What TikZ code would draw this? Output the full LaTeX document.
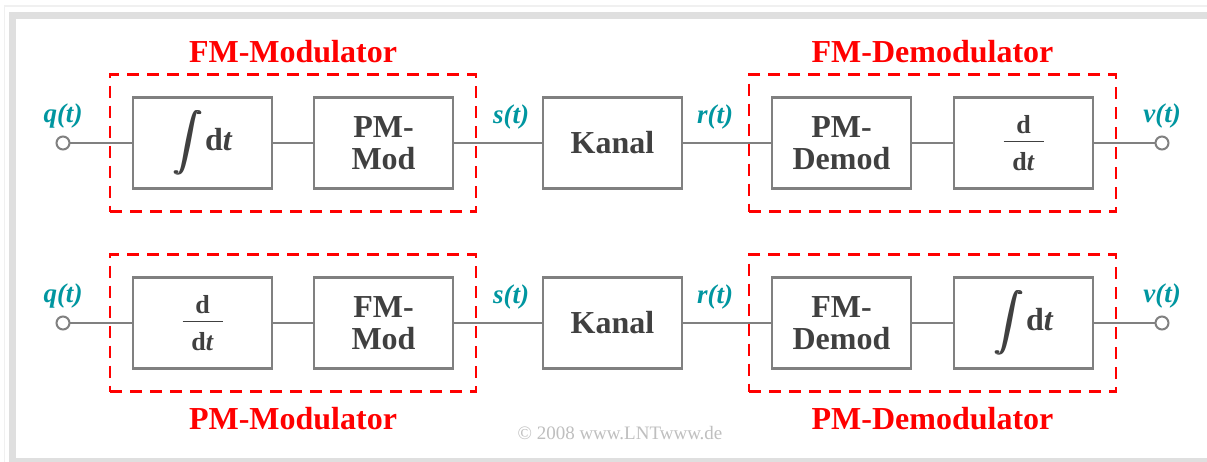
\documentclass[tikz,border=0pt]{standalone}
\usepackage{fontspec}
\setmainfont{Liberation Serif}
\usepackage{graphicx}
\usetikzlibrary{positioning, fit}

\definecolor{sigcol}{RGB}{0,150,160}
\definecolor{boxgray}{RGB}{128,128,128}
\definecolor{txtgray}{RGB}{64,64,64}
\definecolor{modred}{RGB}{255,0,0}

\newcommand{\intsign}{\scalebox{2.9}{\normalsize$\displaystyle\int$}}
\newcommand{\intdt}{\rlap{\intsign}\kern0.8pt\rlap{\intsign}\kern0.8pt\intsign\kern2pt d\textit{t}}
\newcommand{\ddt}{d\\[-19pt]\rule{40pt}{1.5pt}\\d\textit{t}}

\begin{document}
\begin{tikzpicture}[x=1pt, y=-1pt,
    blk/.style={rectangle, draw=boxgray, line width=2.5pt, minimum width=139pt,
                minimum height=91pt, outer sep=0pt, inner sep=0pt, align=center,
                font=\fontsize{32}{32}\selectfont\bfseries, text=txtgray, fill=white},
    fracblk/.style={blk, font=\fontsize{26}{28}\selectfont\bfseries},
    wire/.style={draw=boxgray, line width=2.5pt},
    term/.style={circle, draw=boxgray, line width=2pt, fill=white,
                 minimum size=13pt, inner sep=0pt, outer sep=0pt},
    sig/.style={font=\fontsize{27}{28}\selectfont\bfseries\itshape, text=sigcol, inner sep=0pt},
    grp/.style={draw=modred, dash pattern=on 12pt off 8pt, line width=2.5pt, inner sep=23pt},
    grplbl/.style={font=\fontsize{32}{32}\selectfont\bfseries, text=modred, inner sep=0pt}
]
\useasboundingbox (0,0) rectangle (1207,461);
\clip (0,0) rectangle (1207,461);
\fill[white] (0,0) rectangle (1207,461);

% frame
\draw[draw=gray!12, line width=1.5pt] (4.5,6) rectangle (1230,480);
\draw[draw=gray!25, line width=7pt] (12,15) rectangle (1225,461);

% upper chain: FM
\node[blk] (intq1) at (202.5,143) {\intdt};
\node[blk, right=42pt of intq1]  (pmmod)  {PM-\\Mod};
\node[blk, right=90pt of pmmod]  (kanal1) {Kanal};
\node[blk, right=90pt of kanal1] (pmdem)  {PM-\\Demod};
\node[fracblk, right=43pt of pmdem] (diff1) {\ddt};

% lower chain: PM
\node[fracblk, below=89pt of intq1] (diff2) {\ddt};
\node[blk, right=42pt of diff2]  (fmmod)  {FM-\\Mod};
\node[blk, right=90pt of fmmod]  (kanal2) {Kanal};
\node[blk, right=90pt of kanal2] (fmdem)  {FM-\\Demod};
\node[blk, right=43pt of fmdem]  (intq2)  {\intdt};

% in/out terminals
\node[term] (qin1)  at (63,143)   {};
\node[term] (vout1) at (1162,143) {};
\node[term] (qin2)  at (63,323)   {};
\node[term] (vout2) at (1162,323) {};

% signal labels
\node[sig, above=8pt of qin1]  (qlbl1) {q(t)};
\node[sig, above=8pt of vout1] (vlbl1) {v(t)};
\node[sig, above=8pt of qin2]  (qlbl2) {q(t)};
\node[sig, above=8pt of vout2] (vlbl2) {v(t)};
\node[sig] (slbl1) at (511,117) {s(t)};
\node[sig] (rlbl1) at (715,117) {r(t)};
\node[sig] (slbl2) at (511,297) {s(t)};
\node[sig] (rlbl2) at (715,297) {r(t)};

% connectors
\draw[wire] (qin1)   -- (intq1);
\draw[wire] (intq1)  -- (pmmod);
\draw[wire] (pmmod)  -- (kanal1);
\draw[wire] (kanal1) -- (pmdem);
\draw[wire] (pmdem)  -- (diff1);
\draw[wire] (diff1)  -- (vout1);
\draw[wire] (qin2)   -- (diff2);
\draw[wire] (diff2)  -- (fmmod);
\draw[wire] (fmmod)  -- (kanal2);
\draw[wire] (kanal2) -- (fmdem);
\draw[wire] (fmdem)  -- (intq2);
\draw[wire] (intq2)  -- (vout2);

% modulator / demodulator groups
\node[grp, fit=(intq1)(pmmod),
      label={[grplbl, label distance=10pt]above:FM-Modulator}] (fmgrp1) {};
\node[grp, fit=(pmdem)(diff1),
      label={[grplbl, label distance=10pt]above:FM-Demodulator}] (fmgrp2) {};
\node[grp, fit=(diff2)(fmmod),
      label={[grplbl, label distance=14pt]below:PM-Modulator}] (pmgrp1) {};
\node[grp, fit=(fmdem)(intq2),
      label={[grplbl, label distance=14pt]below:PM-Demodulator}] (pmgrp2) {};

\node[font=\fontsize{19}{20}\selectfont, text=gray!50] (copy) at (620,433)
     {\textcopyright\ 2008 www.LNTwww.de};
\end{tikzpicture}
\end{document}
